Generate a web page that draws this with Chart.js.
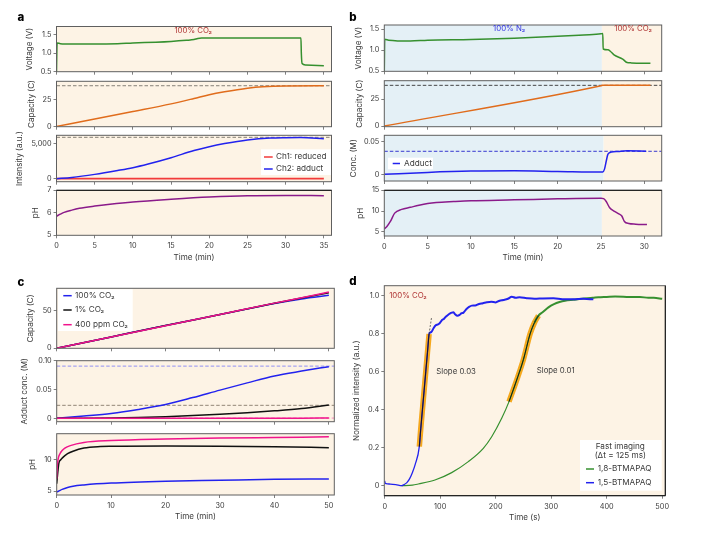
<!DOCTYPE html>
<html><head><meta charset="utf-8">
<script src="https://cdn.jsdelivr.net/npm/chart.js@4"></script>
<style>html,body{margin:0;padding:0;background:#fff;width:720px;height:536px;overflow:hidden}canvas{position:absolute;left:0;top:0}</style>
</head><body>
<script>
// Panel a
const aVoltT=[0,0.08,0.5,2,5,8,10,13,15,17,18,18.5,19,25,32,32.05,32.15,32.6,35];
const aVoltY=[0.5,1.27,1.25,1.24,1.24,1.25,1.27,1.29,1.31,1.34,1.36,1.39,1.40,1.40,1.40,1.0,0.72,0.68,0.66];
const aCapT=[0,5,10,15,18,20,22,25,27,30,35];
const aCapY=[0,6.8,13.7,20.8,25.8,29.3,32,35.3,36.7,37.4,37.5];
const aIntT=[0,2,5,8,10,12,15,18,20,22,25,28,30,32,35];
const aIntY=[0,180,625,1180,1590,2120,3030,4060,4615,5060,5577,5860,5915,5930,5770];
const aRedT=[0,35];
const aRedY=[0,0];
const aPhT=[0,0.5,1,2,3,5,7,10,15,20,25,30,35];
const aPhY=[5.85,5.94,6.02,6.12,6.2,6.3,6.38,6.48,6.6,6.7,6.76,6.77,6.76];
const aCapLimit=37.6, aIntLimit=5960;
// Panel b
const bVoltT=[0,0.05,0.5,3,5,10,15,20,23,25,25.2,25.25,25.8,26.1,26.5,27.5,28,28.5,30.7];
const bVoltY=[0.5,1.26,1.24,1.22,1.24,1.255,1.285,1.33,1.365,1.39,1.40,1.03,1.01,0.97,0.89,0.79,0.71,0.70,0.69];
const bCapT=[0,25,25.2,30.7];
const bCapY=[0,37.3,37.7,37.7];
const bConcT=[0,5,10,15,20,25.2,25.4,25.6,25.8,26.2,27,28,30.2];
const bConcY=[0,0.003,0.005,0.0055,0.0045,0.0035,0.008,0.02,0.031,0.034,0.035,0.036,0.0355];
const bPhT=[0,0.3,0.7,1.2,2,3,4,5,6,8,10,15,20,25,25.3,25.6,26,26.5,27,27.4,27.7,28.2,29,30.3];
const bPhY=[5.7,6.3,7.5,9.5,10.4,10.9,11.4,11.8,12.05,12.3,12.5,12.7,12.95,13.1,13,12.3,10.8,10,9.4,8.8,7.5,7,6.85,6.75];
const bCapLimit=37.7, bConcLimit=0.0353;
// Panel c
const cCapT=[0,10,20,30,40,45,50];
const cCap100=[0,15,30,44.5,59,65,69.7];
const cCap1=[0,15,29.9,44.5,59.3,66.3,73];
const cCap400=[0,15,29.8,44.5,59.5,66.5,74];
const cConcT=[0,5,10,15,20,25,30,35,40,45,50];
const cConc100=[0,0.004,0.0086,0.0155,0.024,0.036,0.049,0.0615,0.0735,0.082,0.0897];
const cConc1=[0,0.0002,0.0006,0.0015,0.003,0.0048,0.007,0.0098,0.013,0.017,0.023];
const cConc400=[0,0,0.0001,0.0001,0.0002,0.0002,0.0003,0.0003,0.0004,0.0004,0.0005];
const cConcLimits=[0.0906,0.0226,0.0005];
const cPh100T=[0,0.3,1,2,3,5,10,20,30,40,50];
const cPh100Y=[4.9,5.0,5.3,5.6,5.8,6.0,6.3,6.6,6.75,6.9,6.97];
const cPh1T=[0,0.2,0.4,0.7,1,2,3,5,8,10,20,30,40,50];
const cPh1Y=[6.2,8,9.5,10,10.3,11,11.4,11.9,12.15,12.2,12.25,12.2,12.1,11.97];
const cPh400T=[0,0.1,0.3,0.6,1,1.5,2.5,5,10,20,30,40,50];
const cPh400Y=[7,9,10.3,11,11.5,11.9,12.3,12.8,13.1,13.35,13.5,13.6,13.7];
// Panel d
const dBlueT=[0,1,5,10,20,30.6,35,40,45,50,55,62.4,65,68,71,74,77,80,84,88,92,96,99,103,107,110,114,118,121,124,127,131,135,138,142,147,152,157,163,170,177,184,192,200,207,214,222,229,236,243,256,270,285,304,320,340,358,376];
const dBlueY=[0.025,0.012,0.01,0.008,0.006,0,0.006,0.016,0.037,0.07,0.112,0.206,0.3,0.4,0.5,0.6,0.7,0.8,0.81,0.83,0.845,0.85,0.856,0.872,0.88,0.89,0.9,0.908,0.912,0.914,0.903,0.895,0.9,0.908,0.912,0.93,0.942,0.949,0.95,0.958,0.962,0.967,0.97,0.966,0.975,0.979,0.985,0.996,0.99,0.993,0.988,0.985,0.987,0.988,0.983,0.982,0.985,0.982];
const dGreenT=[30,50,60.6,90.6,120.7,150.7,177.7,192.8,210.8,224,240,250,262,270,277,285,295,305,315,325,340,355,375,385,400,415,430,445,460,475,485,500];
const dGreenY=[0,0.003,0.009,0.03,0.069,0.127,0.197,0.258,0.355,0.443,0.575,0.665,0.8,0.86,0.896,0.915,0.94,0.957,0.968,0.975,0.98,0.985,0.99,0.993,0.995,0.997,0.996,0.994,0.995,0.99,0.99,0.985];
const dFit1T=[62.4,65,68,71,74,77,80];
const dFit1Y=[0.206,0.3,0.4,0.5,0.6,0.7,0.8];
const dFit2T=[224,240,250,262,270,277];
const dFit2Y=[0.443,0.575,0.665,0.8,0.86,0.896];
const dDashT=[80,84.6];
const dDashY=[0.8,0.89];
// Tick labels
const xTicksA=[0,5,10,15,20,25,30,35];
const xTicksB=[0,5,10,15,20,25,30];
const xTicksC=[0,10,20,30,40,50];
const xTicksD=[0,100,200,300,400,500];
const yVolt=[0.5,1,1.5], yVoltLabels=['0.5','1.0','1.5'];
const yCap=[0,25], yCapLabels=['0','25'];
const yInt=[0,5000], yIntLabels=['0','5,000'];
const yPhA=[5,6,7], yPhALabels=['5','6','7'];
const yConcB=[0,0.05], yConcBLabels=['0','0.05'];
const yPhB=[5,10,15], yPhBLabels=['5','10','15'];
const yCapC=[0,50], yCapCLabels=['0','50'];
const yConcC=[0,0.05,0.1], yConcCLabels=['0','0.05','0.10'];
const yPhC=[5,10], yPhCLabels=['5','10'];
const yD=[0,0.2,0.4,0.6,0.8,1], yDLabels=['0','0.2','0.4','0.6','0.8','1.0'];

const FONT='Inter';
const INK='#3a3a3a', FRAME='#5f5f5f';
const CREAM='#fdf3e5', SKY='#e4f0f6';
const GREEN='#36902f', ORANGE='#e06c1c', BLUE='#2222ee', PURPLE='#8a1a8a', RED='#f23a3a', PINK='#f0148c', BLACK='#111111', AMBER='#f5a81e';
const zip=(t,y)=>t.map((v,i)=>({x:v,y:y[i]}));
const line=(t,y,color,w=1.5,extra={})=>Object.assign({data:zip(t,y),borderColor:color,borderWidth:w,pointRadius:0,cubicInterpolationMode:'monotone',fill:false},extra);
const dash=(x0,x1,v,color)=>({data:[{x:x0,y:v},{x:x1,y:v}],borderColor:color,borderWidth:0.9,borderDash:[3.5,2],pointRadius:0});

function panel(s){
  const el=document.createElement('canvas');
  el.width=720;el.height=536;el.style.width='720px';el.style.height='536px';
  document.body.appendChild(el);
  const fs=7.3, lh=fs*1.2+0.96;
  const axisLeft=s.yTitleX-lh/2, yW=s.box[0]-axisLeft;
  const axisBottom=s.xTitle?s.xTitleY+lh/2:s.box[3]+5, xH=axisBottom-s.box[3];
  const deco={id:'deco',
    beforeDatasetsDraw(c){
      const a=c.chartArea,ctx=c.ctx,x=c.scales.x;
      ctx.save();
      (s.regions||[[x.min,x.max,CREAM]]).forEach(r=>{
        const p0=Math.max(a.left,x.getPixelForValue(r[0])),p1=Math.min(a.right,x.getPixelForValue(r[1]));
        ctx.fillStyle=r[2];ctx.fillRect(p0,a.top,p1-p0,a.bottom-a.top);
      });
      ctx.restore();
    },
    afterDraw(c){
      const a=c.chartArea,ctx=c.ctx;
      ctx.save();
      ctx.strokeStyle=FRAME;ctx.lineWidth=1;
      ctx.strokeRect(a.left,a.top,a.right-a.left,a.bottom-a.top);
      ctx.strokeStyle='#111';
      if(s.topDark){ctx.beginPath();ctx.moveTo(a.left,a.top);ctx.lineTo(a.right,a.top);ctx.stroke();}
      if(s.cornerDark){ctx.beginPath();ctx.moveTo(a.left,a.bottom);ctx.lineTo(a.right,a.bottom);ctx.lineTo(a.right,a.top);ctx.stroke();}
      ctx.textBaseline='middle';
      (s.notes||[]).forEach(n=>{
        ctx.font=fs+0.5+'px '+FONT;ctx.fillStyle=n.color;ctx.textAlign=n.align||'center';
        ctx.fillText(n.text,c.scales.x.getPixelForValue(n.x),c.scales.y.getPixelForValue(n.y));
      });
      if(s.legend){
        const L=s.legend;
        ctx.fillStyle='#fff';ctx.fillRect(L.box[0],L.box[1],L.box[2],L.box[3]);
        ctx.textAlign='center';ctx.font='8.2px '+FONT;ctx.fillStyle=INK;
        (L.head||[]).forEach(h=>ctx.fillText(h[0],h[1],h[2]));
        ctx.textAlign='left';
        L.rows.forEach(r=>{
          ctx.strokeStyle=r.color;ctx.lineWidth=1.5;ctx.beginPath();ctx.moveTo(L.sx0,r.y);ctx.lineTo(L.sx1,r.y);ctx.stroke();
          ctx.fillStyle=INK;ctx.fillText(r.label,L.tx,r.y);
        });
      }
      if(s.letter){
        ctx.font='800 11.5px '+FONT;ctx.fillStyle='#000';ctx.textAlign='center';
        ctx.fillText(s.letter[0],s.letter[1],s.letter[2]);
      }
      ctx.restore();
    }};
  const scale=(t)=>({type:'linear',display:true,
    border:{display:false},
    grid:{drawOnChartArea:false,drawTicks:true,tickLength:3,tickColor:FRAME,tickWidth:0.8},
    afterBuildTicks(ax){ax.ticks=t.map(v=>({value:v}));}});
  new Chart(el,{type:'line',
    data:{datasets:s.datasets},
    options:{responsive:false,animation:false,devicePixelRatio:window.devicePixelRatio||1,
      parsing:false,normalized:true,
      layout:{autoPadding:false,padding:{left:axisLeft,top:s.box[1],right:720-s.box[2],bottom:536-axisBottom}},
      plugins:{legend:{display:false},tooltip:{enabled:false},title:{display:false}},
      scales:{
        x:Object.assign(scale(s.xTicks),{min:s.xRange[0],max:s.xRange[1],
          title:{display:!!s.xTitle,text:s.xTitle||'',color:INK,padding:0,font:{family:FONT,size:fs+0.8}},
          ticks:{display:!!s.xTitle,color:INK,font:{family:FONT,size:fs},padding:3.5,maxRotation:0,autoSkip:false,callback:v=>String(v)},
          afterFit(ax){ax.height=xH;}}),
        y:Object.assign(scale(s.yTicks),{min:s.yRange[0],max:s.yRange[1],
          title:{display:true,text:s.yTitle,color:INK,padding:0,font:{family:FONT,size:fs+0.8}},
          ticks:{color:INK,font:{family:FONT,size:fs},padding:2,autoSkip:false,callback:(v,i)=>s.yLabels[i]},
          afterFit(ax){ax.width=yW;}})
      }},
    plugins:[deco]});
}
const A=[56.5,331.5], B=[384.3,661.7], C=[56.7,334.3];
panel({box:[A[0],26.5,A[1],71.7],letter:['a',21,18],xRange:[0,36],xTicks:xTicksA,yRange:[0.5,1.71],yTicks:yVolt,yLabels:yVoltLabels,yTitle:'Voltage (V)',yTitleX:30,
  notes:[{text:'100% CO₂',x:17.9,y:1.6,color:'#b03636'}],datasets:[line(aVoltT,aVoltY,GREEN)]});
panel({box:[A[0],81.3,A[1],126.7],xRange:[0,36],xTicks:xTicksA,yRange:[-0.3,41.7],yTicks:yCap,yLabels:yCapLabels,yTitle:'Capacity (C)',yTitleX:32,
  datasets:[line(aCapT,aCapY,ORANGE),dash(0,36,aCapLimit,'#77736a')]});
panel({box:[A[0],135.3,A[1],181.7],xRange:[0,36],xTicks:xTicksA,yRange:[-430,6250],yTicks:yInt,yLabels:yIntLabels,yTitle:'Intensity (a.u.)',yTitleX:20,
  legend:{box:[261,149.3,70,25.7],sx0:264,sx1:272.7,tx:276,rows:[{label:'Ch1: reduced',color:RED,y:157},{label:'Ch2: adduct',color:BLUE,y:169}]},
  datasets:[line(aIntT,aIntY,BLUE),line(aRedT,aRedY,RED,1.8),dash(0,36,aIntLimit,'#77736a')]});
panel({box:[A[0],190.3,A[1],235.3],topDark:true,xRange:[0,36],xTicks:xTicksA,yRange:[5,7],yTicks:yPhA,yLabels:yPhALabels,yTitle:'pH',yTitleX:36,xTitle:'Time (min)',xTitleY:258,
  datasets:[line(aPhT,aPhY,PURPLE)]});

const bRegions=[[0,25.1,SKY],[25.1,32,CREAM]], bRegions2=[[0,25.3,SKY],[25.3,32,CREAM]];
panel({box:[B[0],25,B[1],71.3],letter:['b',353,18],regions:bRegions,xRange:[0,32],xTicks:xTicksB,yRange:[0.5,1.6],yTicks:yVolt,yLabels:yVoltLabels,yTitle:'Voltage (V)',yTitleX:358.3,
  notes:[{text:'100% N₂',x:14.4,y:1.52,color:'#3535e0'},{text:'100% CO₂',x:28.7,y:1.52,color:'#b03636'}],datasets:[line(bVoltT,bVoltY,GREEN)]});
panel({box:[B[0],80.7,B[1],126.7],regions:bRegions,xRange:[0,32],xTicks:xTicksB,yRange:[-0.6,42],yTicks:yCap,yLabels:yCapLabels,yTitle:'Capacity (C)',yTitleX:360,
  datasets:[line(bCapT,bCapY,ORANGE),dash(0,32,bCapLimit,'#333')]});
panel({box:[B[0],135.3,B[1],181],regions:bRegions2,xRange:[0,32],xTicks:xTicksB,yRange:[-0.0102,0.0598],yTicks:yConcB,yLabels:yConcBLabels,yTitle:'Conc. (M)',yTitleX:354,
  legend:{box:[388,157.7,45,11.6],sx0:392.7,sx1:400,tx:404,rows:[{label:'Adduct',color:BLUE,y:163.5}]},
  datasets:[line(bConcT,bConcY,BLUE),dash(0,32,bConcLimit,'#2222cc')]});
panel({box:[B[0],190.3,B[1],236],topDark:true,regions:bRegions,xRange:[0,32],xTicks:xTicksB,yRange:[4,15],yTicks:yPhB,yLabels:yPhBLabels,yTitle:'pH',yTitleX:361,xTitle:'Time (min)',xTitleY:258,
  datasets:[line(bPhT,bPhY,PURPLE)]});

panel({box:[C[0],288.3,C[1],348.3],letter:['c',21,283],xRange:[0,51],xTicks:xTicksC,yRange:[0,79],yTicks:yCapC,yLabels:yCapCLabels,yTitle:'Capacity (C)',yTitleX:31,
  legend:{box:[58,289.3,74.7,41.7],sx0:63.3,sx1:71.7,tx:75,rows:[{label:'100% CO₂',color:BLUE,y:295.7},{label:'1% CO₂',color:BLACK,y:310},{label:'400 ppm CO₂',color:PINK,y:324.7}]},
  datasets:[line(cCapT,cCap400,PINK),line(cCapT,cCap1,BLACK),line(cCapT,cCap100,BLUE)]});
panel({box:[C[0],360.7,C[1],421.7],xRange:[0,51],xTicks:xTicksC,yRange:[-0.0058,0.1],yTicks:yConcC,yLabels:yConcCLabels,yTitle:'Adduct conc. (M)',yTitleX:25,
  datasets:[line(cConcT,cConc400,PINK),line(cConcT,cConc1,BLACK),line(cConcT,cConc100,BLUE),dash(0,51,cConcLimits[0],'#8484f4'),dash(0,51,cConcLimits[1],'#86786a'),dash(0,51,cConcLimits[2],'#f97ab8')]});
panel({box:[C[0],433.7,C[1],495],xRange:[0,51],xTicks:xTicksC,yRange:[4.4,14.2],yTicks:yPhC,yLabels:yPhCLabels,yTitle:'pH',yTitleX:32.7,xTitle:'Time (min)',xTitleY:517,
  datasets:[line(cPh400T,cPh400Y,PINK),line(cPh1T,cPh1Y,BLACK),line(cPh100T,cPh100Y,BLUE)]});

const thickAfter=(t,thin,thick)=>({segment:{borderWidth:c=>c.p0.parsed.x>=t?thick:thin}});
panel({box:[384.3,285.7,665.3,495.7],cornerDark:true,letter:['d',353,282],xRange:[-0.7,505.6],xTicks:xTicksD,yRange:[-0.0527,1.054],yTicks:yD,yLabels:yDLabels,yTitle:'Normalized intensity (a.u.)',yTitleX:357,xTitle:'Time (s)',xTitleY:517.7,
  notes:[{text:'100% CO₂',x:8,y:1.0,color:'#b03636',align:'left'},{text:'Slope 0.03',x:93,y:0.6,color:INK,align:'left'},{text:'Slope 0.01',x:274,y:0.605,color:INK,align:'left'}],
  legend:{box:[580,440,81.7,50.7],head:[['Fast imaging',620.3,447],['(Δt = 125 ms)',620.3,456]],sx0:586,sx1:594,tx:597.7,rows:[{label:'1,8-BTMAPAQ',color:GREEN,y:469},{label:'1,5-BTMAPAQ',color:BLUE,y:482.7}]},
  datasets:[line(dFit1T,dFit1Y,BLACK,0.9),line(dFit2T,dFit2Y,BLACK,0.9),line(dDashT,dDashY,'#333',0.7,{borderDash:[2,1.5]}),line(dBlueT,dBlueY,BLUE,1.3,thickAfter(80,1.3,2)),line(dGreenT,dGreenY,GREEN,1.2,thickAfter(270,1.2,2)),line(dFit1T,dFit1Y,AMBER,5.5),line(dFit2T,dFit2Y,AMBER,5.5)]});
</script>
</body></html>
